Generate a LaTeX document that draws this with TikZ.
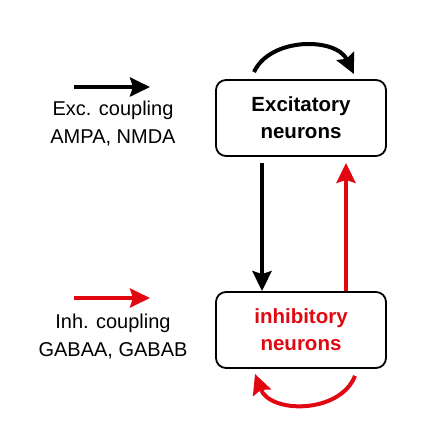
\documentclass[tikz,border=0pt]{standalone}
\usepackage{fontspec}
\setmainfont{Liberation Sans}
\usetikzlibrary{arrows.meta}
\definecolor{exred}{RGB}{226,8,18}
\begin{document}
\begin{tikzpicture}[x=1pt,y=-1pt,
  box/.style={draw, line width=1.8pt, rounded corners=10pt, minimum width=170pt,
    minimum height=76pt, align=center, inner sep=0pt,
    font=\fontsize{20.5}{27}\selectfont\bfseries},
  conn/.style={line width=4pt, -{Stealth[length=20pt,width=19pt,inset=3pt]}},
  lab/.style={align=center, font=\fontsize{20}{28}\selectfont}]
\useasboundingbox (0,0) rectangle (436,442);
\node[box] (ex) at (301,118) {Excitatory\\neurons};
\node[box, text=exred] (inh) at (301,330) {inhibitory\\neurons};
\node[lab] (exlab) at (113,124) {Exc. coupling\\AMPA, NMDA};
\node[lab] (inhlab) at (113,337) {Inh. coupling\\GABAA, GABAB};
% legend arrows
\coordinate (ea) at (74,87);
\coordinate (eb) at (150,87);
\coordinate (ia) at (74,298);
\coordinate (ib) at (150,298);
\draw[conn] (ea) -- (eb);
\draw[conn, exred] (ia) -- (ib);
% vertical connectors
\coordinate (exs) at ([yshift=-6pt]ex.south -| 262,0);
\coordinate (inn) at (inh.north -| 262,0);
\draw[conn] (exs) -- (inn);
\coordinate (inhn) at (inh.north -| 346,0);
\coordinate (exsr) at ([yshift=-6pt]ex.south -| 346,0);
\draw[conn, exred] (inhn) -- (exsr);
% self loops
\coordinate (t1) at ([yshift=7pt]ex.north -| 254,0);
\coordinate (t2) at ([yshift=5pt]ex.north -| 354,0);
\draw[conn] (t1) .. controls (270,37) and (336,37) .. (t2);
\coordinate (b1) at ([yshift=-7pt]inh.south -| 355,0);
\coordinate (b2) at ([yshift=-5pt]inh.south -| 255,0);
\draw[conn, exred] (b1) .. controls (340,414) and (270,414) .. (b2);
\end{tikzpicture}
\end{document}
